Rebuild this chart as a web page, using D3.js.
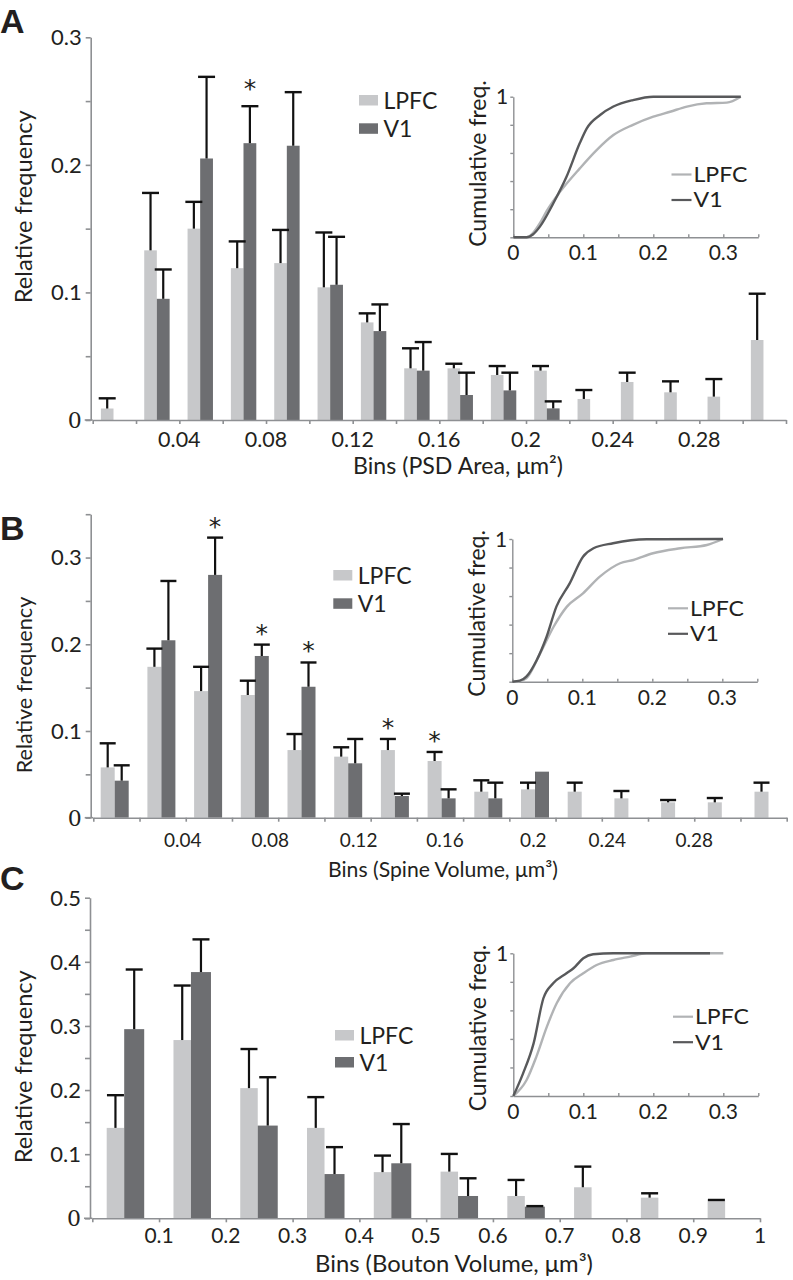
<!DOCTYPE html>
<html><head><meta charset="utf-8">
<script src="https://cdn.jsdelivr.net/npm/d3@7"></script>
<style>
body{margin:0;background:#fff}
svg{display:block;background:#fff}
text{font-family:Lato,'Noto Sans',sans-serif;fill:#231f20}
</style>
</head><body>
<svg id="c" width="793" height="1280"></svg>
<script>
// ---------------- DATA ----------------
// Panel A: PSD area, 16 bins of 0.02 um^2
const binsA = ["0-0.02","0.02-0.04","0.04-0.06","0.06-0.08","0.08-0.10","0.10-0.12","0.12-0.14","0.14-0.16","0.16-0.18","0.18-0.20","0.20-0.22","0.22-0.24","0.24-0.26","0.26-0.28","0.28-0.30","0.30-0.32"];
const lpfcA    = [0.009,0.133,0.150,0.119,0.123,0.104,0.0765,0.0405,0.0405,0.0353,0.0387,0.0165,0.0298,0.0217,0.0183,0.0627];
const lpfcErrA = [0.017,0.178,0.171,0.140,0.149,0.147,0.0836,0.0562,0.0441,0.0423,0.0423,0.0235,0.0371,0.0303,0.0321,0.099];
const v1A      = [null,0.095,0.205,0.217,0.215,0.106,0.0697,0.0387,0.0196,0.0232,0.0091,null,null,null,null,null];
const v1ErrA   = [null,0.118,0.269,0.246,0.257,0.1436,0.0906,0.0611,0.0371,0.0371,0.0146,null,null,null,null,null];
const starsA   = [{bin:3, series:"v1"}];
const xTickEdgesA = [0,0.02,0.04,0.06,0.08,0.10,0.12,0.14,0.16,0.18,0.20,0.22,0.24,0.26,0.28,0.30,0.32];
const xLabelValsA = [0.04,0.08,0.12,0.16,0.2,0.24,0.28];
const xLabelsA    = ["0.04","0.08","0.12","0.16","0.2","0.24","0.28"];
const yMinorA  = [0,0.05,0.1,0.15,0.2,0.25,0.3];
const yLabValsA = [0,0.1,0.2,0.3];
const yLabelsA  = ["0","0.1","0.2","0.3"];

// Panel B: spine volume, 15 bins
const binsB = ["b1","b2","b3","b4","b5","b6","b7","b8","b9","b10","b11","b12","b13","b14","b15"];
const lpfcB    = [0.058,0.174,0.146,0.1415,0.078,0.0704,0.078,0.0654,0.030,0.0327,0.030,0.0223,0.0177,0.0177,0.030];
const lpfcErrB = [0.0858,0.195,0.174,0.158,0.0965,0.0812,0.0908,0.0758,0.0431,0.0404,0.0404,0.0308,0.0204,0.0227,0.0404];
const v1B      = [0.0427,0.2046,0.280,0.1865,0.151,0.0627,0.025,0.0223,0.0223,0.0531,null,null,null,null,null];
const v1ErrB   = [0.0604,0.273,0.323,0.1996,0.179,0.0908,0.0277,0.0327,0.0404,null,null,null,null,null,null];
const starsB   = [{bin:2,series:"v1"},{bin:3,series:"v1"},{bin:4,series:"v1"},{bin:6,series:"lpfc"},{bin:7,series:"lpfc"}];
const xLabelPosB = [1.935,3.83,5.74,7.61,9.52,11.12,13.0]; // in bin-edge units
const xLabelsB   = ["0.04","0.08","0.12","0.16","0.2","0.24","0.28"];
const yMinorB  = [0,0.05,0.1,0.15,0.2,0.25,0.3,0.35];
const yLabValsB = [0,0.1,0.2,0.3];
const yLabelsB  = ["0","0.1","0.2","0.3"];

// Panel C: bouton volume, 10 bins of 0.1 um^3
const binsC = ["0-0.1","0.1-0.2","0.2-0.3","0.3-0.4","0.4-0.5","0.5-0.6","0.6-0.7","0.7-0.8","0.8-0.9","0.9-1"];
const lpfcC    = [0.141,0.278,0.203,0.141,0.072,0.0728,0.0348,0.0484,0.0322,0.0276];
const lpfcErrC = [0.192,0.363,0.264,0.189,0.0978,0.1004,0.0598,0.0806,0.039,0.0286];
const v1C      = [0.295,0.384,0.1446,0.069,0.0858,0.0348,0.0182,null,null,null];
const v1ErrC   = [0.388,0.435,0.22,0.111,0.147,0.0624,0.019,null,null,null];
const xTickEdgesC = [0,0.1,0.2,0.3,0.4,0.5,0.6,0.7,0.8,0.9,1];
const xLabelValsC = [0.1,0.2,0.3,0.4,0.5,0.6,0.7,0.8,0.9,1];
const xLabelsC    = ["0.1","0.2","0.3","0.4","0.5","0.6","0.7","0.8","0.9","1"];
const yMinorC  = [0,0.05,0.1,0.15,0.2,0.25,0.3,0.35,0.4,0.45,0.5];
const yLabValsC = [0,0.1,0.2,0.3,0.4,0.5];
const yLabelsC  = ["0","0.1","0.2","0.3","0.4","0.5"];

// Insets: cumulative frequency curves [x, cumulative freq]
const cdfLpfcA = [[0,0],[0.019,0],[0.028,0.03],[0.038,0.1],[0.048,0.19],[0.067,0.325],[0.095,0.49],[0.119,0.62],[0.143,0.727],[0.171,0.80],[0.2,0.858],[0.224,0.893],[0.248,0.93],[0.276,0.953],[0.305,0.958],[0.325,1]];
const cdfV1A   = [[0,0],[0.019,0],[0.028,0.02],[0.038,0.076],[0.057,0.24],[0.076,0.43],[0.095,0.67],[0.105,0.775],[0.124,0.87],[0.143,0.93],[0.171,0.976],[0.2,1.0],[0.325,1]];
const cdfLpfcB = [[0,0],[0.011,0.005],[0.02,0.023],[0.04,0.2],[0.059,0.385],[0.078,0.526],[0.101,0.619],[0.125,0.736],[0.154,0.83],[0.173,0.853],[0.201,0.9],[0.24,0.935],[0.278,0.958],[0.301,1]];
const cdfV1B   = [[0,0],[0.011,0.007],[0.02,0.035],[0.035,0.152],[0.049,0.315],[0.063,0.526],[0.082,0.689],[0.101,0.876],[0.116,0.935],[0.144,0.97],[0.192,0.998],[0.301,1]];
const cdfLpfcC = [[0,0],[0.019,0.112],[0.033,0.276],[0.048,0.486],[0.062,0.65],[0.081,0.79],[0.1,0.86],[0.119,0.918],[0.143,0.953],[0.167,0.977],[0.19,1],[0.3,1]];
const cdfV1C   = [[0,0],[0.014,0.159],[0.029,0.369],[0.043,0.685],[0.057,0.79],[0.076,0.86],[0.086,0.895],[0.1,0.965],[0.114,0.993],[0.143,1],[0.281,1]];
const insetXTicks = [0,0.05,0.1,0.15,0.2,0.25,0.3,0.35];
const insetXLabVals = [0,0.1,0.2,0.3];
const insetXLabels = ["0","0.1","0.2","0.3"];
const insetYTicks = [0,0.2,0.4,0.6,0.8,1];
const seriesNames = ["LPFC","V1"];

// ---------------- STYLE ----------------
const AX = "#8e9093", LPc = "#c7c8ca", V1c = "#6d6e71", INK = "#231f20";
const CL_L = "#b1b3b5", CL_V = "#58595b";
const svg = d3.select("#c");

function fitW(sel, w) {
  sel.style("font-size", "100px");
  const L = sel.node().getComputedTextLength();
  sel.style("font-size", (100 * w / L).toFixed(2) + "px");
  return sel;
}

function panel(o) {
  const g = svg.append("g");
  const y = o.y;
  const rows = o.lpfc.map((v, i) => ({i, l: v, le: o.lpfcErr[i], v: o.v1[i], ve: o.v1Err[i]}));
  const lx = d => o.bx(d.i), vx = d => o.bx(d.i) + o.wL;
  // bars
  g.selectAll(".bl").data(rows.filter(d => d.l != null)).join("rect")
    .attr("x", lx).attr("width", o.wL).attr("y", d => y(d.l)).attr("height", d => y(0) - y(d.l)).attr("fill", LPc);
  g.selectAll(".bv").data(rows.filter(d => d.v != null)).join("rect")
    .attr("x", vx).attr("width", o.wV).attr("y", d => y(d.v)).attr("height", d => y(0) - y(d.v)).attr("fill", V1c);
  // error bars
  const errs = [];
  rows.forEach(d => {
    if (d.l != null && d.le != null) errs.push({cx: lx(d) + o.wL / 2, v: d.l, e: d.le});
    if (d.v != null && d.ve != null) errs.push({cx: vx(d) + o.wV / 2, v: d.v, e: d.ve});
  });
  g.selectAll(".ev").data(errs).join("line")
    .attr("x1", d => d.cx).attr("x2", d => d.cx).attr("y1", d => y(d.v)).attr("y2", d => y(d.e))
    .attr("stroke", "#111").attr("stroke-width", 2.2);
  g.selectAll(".ec").data(errs).join("line")
    .attr("x1", d => d.cx - o.cap / 2).attr("x2", d => d.cx + o.cap / 2).attr("y1", d => y(d.e)).attr("y2", d => y(d.e))
    .attr("stroke", "#111").attr("stroke-width", 2.4);
  // stars
  g.selectAll(".st").data(o.stars).join("text")
    .attr("x", d => (d.series === "v1" ? vx({i: d.bin}) + o.wV / 2 : lx({i: d.bin}) + o.wL / 2))
    .attr("y", d => y(d.series === "v1" ? o.v1Err[d.bin] : o.lpfcErr[d.bin]) - o.starGap + 15)
    .attr("text-anchor", "middle").style("font-family", "'DejaVu Sans',sans-serif").style("font-size", "25px").text("*");
  // y axis
  const ya = g.append("g").attr("transform", `translate(${o.yAxisX},0)`)
    .call(d3.axisLeft(y).tickValues(o.yMinor).tickSize(5).tickSizeOuter(0).tickFormat(""));
  ya.selectAll("path,line").attr("stroke", AX).attr("stroke-width", 1.6);
  g.selectAll(".yl").data(o.yLabVals).join("text")
    .attr("x", o.yAxisX - 9).attr("y", d => y(d)).attr("dy", "0.36em")
    .attr("text-anchor", "end")
    .style("font-family", d => d === 0 ? "'DejaVu Serif','Liberation Serif',serif" : null)
    .style("font-size", d => d === 0 ? "22px" : o.yFs + "px")
    .text((d, i) => o.yLabels[i]);
  // x axis
  const xa = g.append("g").attr("transform", `translate(0,${y(0)})`)
    .call(d3.axisBottom(o.xt).tickValues(o.edges).tickSize(4).tickSizeOuter(0).tickFormat(""));
  xa.selectAll("path,line").attr("stroke", AX).attr("stroke-width", 1.6);
  g.append("line").attr("x1", o.yAxisX - 6).attr("x2", o.xt.range()[0]).attr("y1", y(0)).attr("y2", y(0))
    .attr("stroke", AX).attr("stroke-width", 1.6);
  g.selectAll(".xl").data(o.xLabPos).join("text")
    .attr("x", d => o.xt(d)).attr("y", y(0) + o.xLabDy).attr("text-anchor", "middle")
    .style("font-size", o.xFs + "px").text((d, i) => o.xLabels[i]);
  // titles
  fitW(g.append("text").attr("text-anchor", "middle").attr("x", o.xTitle[0]).attr("y", o.xTitle[1])
    .text(o.xTitleText), o.xTitle[2]);
  fitW(g.append("text").attr("text-anchor", "middle")
    .attr("transform", `translate(${o.yTitle[0]},${o.yTitle[1]}) rotate(-90)`).text("Relative frequency"), o.yTitle[2]);
  // panel letter
  g.append("text").attr("x", 0).attr("y", o.letter[1]).style("font-family", "'Liberation Sans',Arial,sans-serif")
    .style("font-weight", "bold").style("font-size", "34px").text(o.letter[0]);
  // legend
  const lg = g.append("g");
  lg.selectAll("rect").data(seriesNames).join("rect")
    .attr("x", o.leg[0]).attr("y", (d, i) => o.leg[1] + i * o.leg[2]).attr("width", 19).attr("height", 10.5)
    .attr("fill", (d, i) => i === 0 ? LPc : V1c);
  lg.selectAll("text").data(seriesNames).join("text")
    .attr("x", o.leg[0] + 24.5).attr("y", (d, i) => o.leg[1] + i * o.leg[2] + 13.5)
    .style("font-size", "23px").text(d => d);
}

function inset(o) {
  const g = svg.append("g");
  const x = d3.scaleLinear().domain([0, 0.35]).range([o.x0, o.x0 + 245]);
  const y = d3.scaleLinear().domain([0, 1]).range([o.y0, o.y1]);
  const ya = g.append("g").attr("transform", `translate(${o.x0},0)`)
    .call(d3.axisLeft(y).tickValues(insetYTicks).tickSize(3).tickSizeOuter(0).tickFormat(""));
  ya.selectAll("path,line").attr("stroke", AX).attr("stroke-width", 1.4);
  const xa = g.append("g").attr("transform", `translate(0,${o.y0})`)
    .call(d3.axisBottom(x).tickValues(insetXTicks).tickSize(-3).tickSizeOuter(0).tickFormat(""));
  xa.selectAll("path,line").attr("stroke", AX).attr("stroke-width", 1.4);
  g.selectAll(".xl").data(insetXLabVals).join("text")
    .attr("x", d => x(d)).attr("y", o.y0 + 23).attr("text-anchor", "middle")
    .style("font-size", "21px").text((d, i) => insetXLabels[i]);
  g.append("text").attr("x", o.x0 - 5).attr("y", y(1)).attr("dy", "0.36em").attr("text-anchor", "end")
    .style("font-size", "21px").text("1");
  fitW(g.append("text").attr("text-anchor", "middle")
    .attr("transform", `translate(${o.x0 - 27},${o.tc}) rotate(-90)`).text("Cumulative freq."), 166.7);
  const line = d3.line().x(d => x(d[0])).y(d => y(d[1])).curve(d3.curveMonotoneX);
  g.append("path").attr("d", line(o.l)).attr("fill", "none").attr("stroke", CL_L).attr("stroke-width", 2.4);
  g.append("path").attr("d", line(o.v)).attr("fill", "none").attr("stroke", CL_V).attr("stroke-width", 2.4);
  const lg = g.append("g");
  seriesNames.forEach((n, i) => {
    const yy = o.leg[1] + i * 25.5;
    lg.append("line").attr("x1", o.leg[0]).attr("x2", o.leg[0] + 20).attr("y1", yy).attr("y2", yy)
      .attr("stroke", i === 0 ? CL_L : CL_V).attr("stroke-width", 2.2);
    lg.append("text").attr("x", o.leg[0] + 22).attr("y", yy + 7.5)
      .attr("transform", `translate(${o.leg[0] + 22},0) scale(1.1,1) translate(${-(o.leg[0] + 22)},0)`)
      .style("font-size", "21px").text(n);
  });
}

// ---------------- PANEL A ----------------
const yA = d3.scaleLinear().domain([0, 0.3]).range([420, 37.3]);
const xA = d3.scaleLinear().domain([0, 0.32]).range([92.7, 786]);
panel({
  lpfc: lpfcA, lpfcErr: lpfcErrA, v1: v1A, v1Err: v1ErrA, stars: starsA, starGap: 24,
  y: yA, xt: xA, edges: xTickEdgesA, xLabPos: xLabelValsA, xLabels: xLabelsA,
  bx: i => xA(xTickEdgesA[i]) + 8.2, wL: 12.6, wV: 12.8, cap: 17,
  yAxisX: 90.7, yMinor: yMinorA, yLabVals: yLabValsA, yLabels: yLabelsA, yFs: 22,
  xLabDy: 27, xFs: 21.5,
  xTitleText: "Bins (PSD Area, μm²)", xTitle: [458, 474, 210],
  yTitle: [32, 206.7, 193], letter: ["A", 33], leg: [359, 95, 28.3]
});
inset({x0: 513.3, y0: 237.3, y1: 96.7, tc: 163.5, l: cdfLpfcA, v: cdfV1A, leg: [671.5, 174.5]});

// ---------------- PANEL B ----------------
const yB = d3.scaleLinear().domain([0, 0.35]).range([817.7, 514.2]);
const xB = d3.scaleLinear().domain([0, 15]).range([93.3, 786.7]);           // tick positions (bin edges)
const xBbar = d3.scaleBand().domain(binsB.map((d, i) => i)).range([100.7, 801.2]); // bar group starts
panel({
  lpfc: lpfcB, lpfcErr: lpfcErrB, v1: v1B, v1Err: v1ErrB, stars: starsB, starGap: 18,
  y: yB, xt: xB, edges: d3.range(16), xLabPos: xLabelPosB, xLabels: xLabelsB,
  bx: i => xBbar(i), wL: 14, wV: 14, cap: 16,
  yAxisX: 90.7, yMinor: yMinorB, yLabVals: yLabValsB, yLabels: yLabelsB, yFs: 22,
  xLabDy: 29, xFs: 19,
  xTitleText: "Bins (Spine Volume, μm³)", xTitle: [443, 877, 230],
  yTitle: [32, 685, 176.7], letter: ["B", 540], leg: [333.3, 570, 28.3]
});
inset({x0: 512.3, y0: 681.7, y1: 539, tc: 613.4, l: cdfLpfcB, v: cdfV1B, leg: [668, 608.3]});

// ---------------- PANEL C ----------------
const yC = d3.scaleLinear().domain([0, 0.5]).range([1218.3, 897.7]);
const xC = d3.scaleLinear().domain([0, 1]).range([92.3, 760]);
panel({
  lpfc: lpfcC, lpfcErr: lpfcErrC, v1: v1C, v1Err: v1ErrC, stars: [], starGap: 18,
  y: yC, xt: xC, edges: xTickEdgesC, xLabPos: xLabelValsC, xLabels: xLabelsC,
  bx: i => xC(xTickEdgesC[i]) + 14.4, wL: 17.5, wV: 20, cap: 17,
  yAxisX: 90, yMinor: yMinorC, yLabVals: yLabValsC, yLabels: yLabelsC, yFs: 22,
  xLabDy: 25, xFs: 21,
  xTitleText: "Bins (Bouton Volume, μm³)", xTitle: [454, 1272, 278],
  yTitle: [32, 1066.7, 193], letter: ["C", 890], leg: [335, 1030, 27]
});
inset({x0: 513.3, y0: 1096, y1: 953.3, tc: 1028, l: cdfLpfcC, v: cdfV1C, leg: [673, 1016.7]});
</script>
</body></html>
